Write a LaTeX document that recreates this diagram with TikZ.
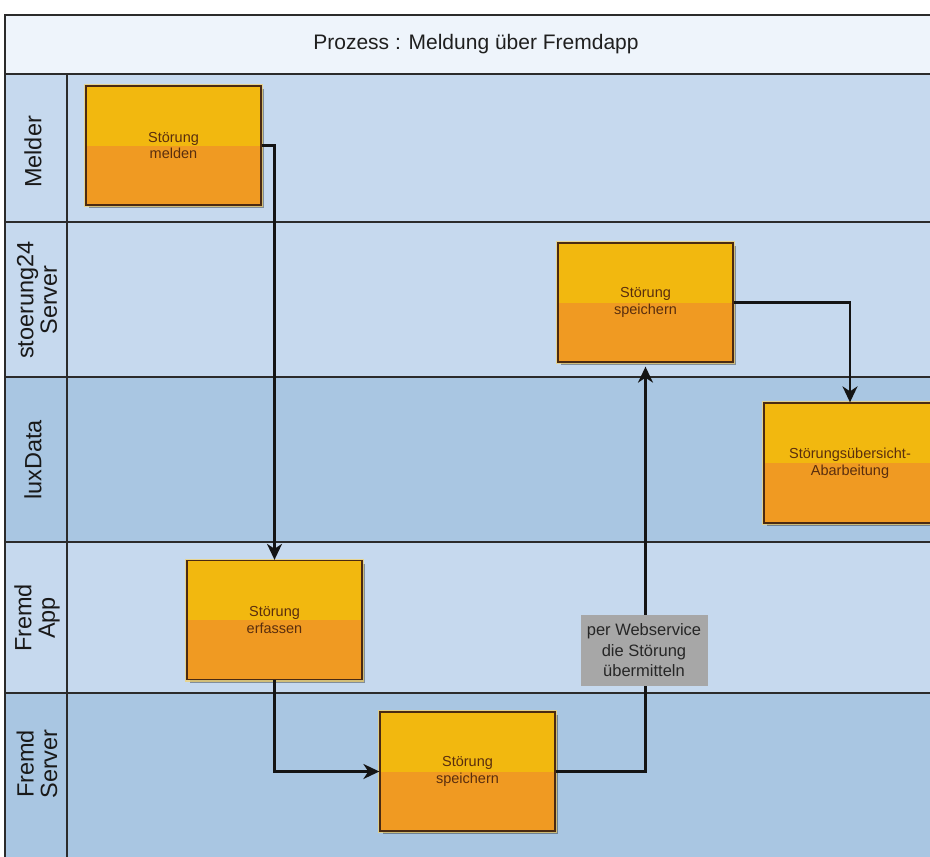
\documentclass[tikz,border=0pt]{standalone}
\usepackage{fontspec}
\setmainfont{Liberation Sans}
\usetikzlibrary{arrows.meta,shadows}

\definecolor{frameline}{HTML}{2B2B2B}
\definecolor{titlebg}{HTML}{EEF4FB}
\definecolor{lanelight}{HTML}{C6D9EE}
\definecolor{lanedark}{HTML}{A9C6E2}
\definecolor{boxtop}{HTML}{F2B80F}
\definecolor{boxbot}{HTML}{F09A22}
\definecolor{boxline}{HTML}{4A2A12}
\definecolor{boxtext}{HTML}{5A2E0E}
\definecolor{boxglow}{HTML}{F5D36A}
\definecolor{notegray}{HTML}{A7A7A7}

\begin{document}
\begin{tikzpicture}[x=1pt,y=-1pt,
  laneline/.style={draw=frameline, line width=1.2pt},
  task/.style={rectangle, draw=boxline, line width=1.3pt, fill=boxbot,
    minimum width=175pt, minimum height=119pt, inner sep=0pt, align=center,
    text=boxtext, font=\fontsize{14.5}{16.5}\selectfont,
    drop shadow={shadow xshift=3pt, shadow yshift=-3pt, opacity=0.35, fill=black},
    preaction={draw=boxglow, line width=4pt, opacity=0.7},
    path picture={\fill[boxtop] (path picture bounding box.north west) rectangle (path picture bounding box.east);}},
  flow/.style={-{Stealth[length=16pt,width=15pt,inset=5pt]}, line width=2.4pt, draw=black!92},
  lanelabel/.style={rotate=90, align=center, font=\fontsize{23.5}{23.5}\selectfont, text=black!90, inner sep=0pt},
  notebox/.style={fill=notegray, align=center, font=\fontsize{16.5}{20.5}\selectfont,
    text=black!85, minimum width=127pt, minimum height=71pt, inner sep=0pt}]

\path[use as bounding box] (0,0) rectangle (930,857);
\fill[white] (0,0) rectangle (930,857);
\begin{scope}
\clip (0,0) rectangle (930,857);

% bands
\fill[titlebg] (5,15) rectangle (940,74);
\fill[lanelight] (5,74) rectangle (940,222);
\fill[lanelight] (5,222) rectangle (940,377);
\fill[lanedark] (5,377) rectangle (940,542);
\fill[lanelight] (5,542) rectangle (940,693);
\fill[lanedark] (5,693) rectangle (940,870);

% lines
\draw[laneline] (940,15) -- (5,15) -- (5,870);
\draw[laneline] (5,74) -- (940,74);
\draw[laneline] (5,222) -- (940,222);
\draw[laneline] (5,377) -- (940,377);
\draw[laneline] (5,542) -- (940,542);
\draw[laneline] (5,693) -- (940,693);
\draw[laneline] (67,74) -- (67,870);

% title
\node[font=\fontsize{21}{24}\selectfont, text=black!88] (title) at (476,44) {Prozess : Meldung über Fremdapp};

% lane labels
\node[lanelabel] (lmelder) at (33,152) {Melder};
\node[lanelabel] (ls24) at (37,300) {stoerung24\\Server};
\node[lanelabel] (llux) at (33,460) {luxData};
\node[lanelabel] (lfapp) at (37,618) {Fremd\\App};
\node[lanelabel] (lfsrv) at (37,764) {Fremd\\Server};

% tasks
\node[task] (melden) at (173.5,145.5) {Störung\\melden};
\node[task] (s24) at (645.5,302.5) {Störung\\speichern};
\node[task, minimum width=172pt, minimum height=120pt] (lux) at (850,463) {Störungsübersicht-\\Abarbeitung};
\node[task] (erfassen) at (274.5,620) {Störung\\erfassen};
\node[task] (fsp) at (467.5,771.5) {Störung\\speichern};

% flows
\draw[flow] (melden.east) -| (erfassen.north);
\draw[flow] (erfassen.south) |- (fsp.west);
\draw[flow, shorten >=4pt] (fsp.east) -| (s24.south);
\draw[flow] (s24.east) -| (lux.north);

\node[notebox] (note) at (644,650.5) {per Webservice\\die Störung\\übermitteln};
\end{scope}
\end{tikzpicture}
\end{document}
